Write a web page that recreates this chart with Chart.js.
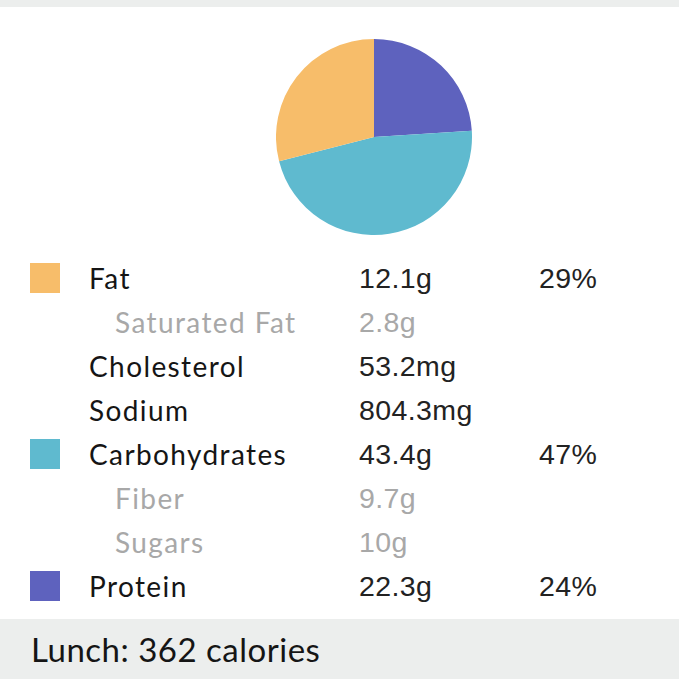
<!DOCTYPE html>
<html lang="en">
<head>
<meta charset="UTF-8">
<title>Lunch - nutrition</title>
<script src="https://cdn.jsdelivr.net/npm/chart.js"></script>
<style>
    html, body{
        margin: 0;
        padding: 0;
        width: 679px;
        height: 679px;
        background: white;
        overflow: hidden;
        position: relative;
    }
    .topo{
        position: absolute;
        left: 0; top: 0;
        width: 679px; height: 7px;
        background: #eceeed;
    }
    .pizza{
        position: absolute;
        left: 276px; top: 39px;
        width: 196px; height: 196px;
    }
    .linha{
        position: absolute;
        left: 0;
        width: 679px;
        height: 44px;
        line-height: 44px;
    }
    .linha div{
        position: absolute;
        top: 0;
        white-space: nowrap;
    }
    .quadrado{
        top: 7px !important;
        left: 30px;
        width: 30px;
        height: 30px;
    }
    .nome{
        left: 89px;
        font-family: Lato, sans-serif;
        font-size: 28px;
        letter-spacing: 1.4px;
        color: #151515;
    }
    .nome.sub{
        left: 115px;
        color: #a8a8a8;
    }
    .valor{
        left: 359px;
        font-family: "Liberation Sans", Arial, sans-serif;
        font-size: 28.5px;
        letter-spacing: 0.4px;
        color: #222;
    }
    .valor.sub{
        color: #a8a8a8;
    }
    .pct{
        left: 539px;
        font-family: "Liberation Sans", Arial, sans-serif;
        font-size: 28.5px;
        letter-spacing: 0.4px;
        color: #222;
    }
    .rodape{
        position: absolute;
        left: 0; top: 619px;
        width: 679px; height: 60px;
        background: #eceeed;
        font-family: Lato, sans-serif;
        font-size: 33px;
        letter-spacing: 0.5px;
        line-height: 60px;
        color: #151515;
        padding-left: 31px;
        box-sizing: border-box;
    }
</style>
</head>
<body>
    <div class="topo"></div>
    <div class="pizza"><canvas id="grafico" width="196" height="196"></canvas></div>
    <div id="tabela"></div>
    <div class="rodape" id="rodape"></div>

<script>
    // fatias do grafico (sentido horario a partir do topo)
    const macros = ['Protein', 'Carbohydrates', 'Fat'];
    const macroPercent = [24, 47, 29];
    const macroCores = ['#5e62be', '#5fbacf', '#f7bd6a'];

    // linhas da tabela
    const nomes = ['Fat', 'Saturated Fat', 'Cholesterol', 'Sodium', 'Carbohydrates', 'Fiber', 'Sugars', 'Protein'];
    const quantidades = ['12.1g', '2.8g', '53.2mg', '804.3mg', '43.4g', '9.7g', '10g', '22.3g'];
    const subitem = [false, true, false, false, false, true, true, false];

    const refeicao = 'Lunch';
    const calorias = 362;

    function montarTabela(){
        var tabela = document.getElementById('tabela');
        for(var i = 0; i < nomes.length; i++){
            var linha = document.createElement('div');
            linha.className = 'linha';
            linha.style.top = (256 + i * 44) + 'px';
            var idx = macros.indexOf(nomes[i]);
            var html = '';
            if(idx >= 0){
                html += `<div class="quadrado" style="background:${macroCores[idx]}"></div>`;
            }
            html += `<div class="nome${subitem[i] ? ' sub' : ''}">${nomes[i]}</div>`;
            html += `<div class="valor${subitem[i] ? ' sub' : ''}">${quantidades[i]}</div>`;
            if(idx >= 0){
                html += `<div class="pct">${macroPercent[idx]}%</div>`;
            }
            linha.innerHTML = html;
            tabela.appendChild(linha);
        }
        document.getElementById('rodape').textContent = `${refeicao}: ${calorias} calories`;
    }

    function carregarGrafico(){
        new Chart(document.getElementById('grafico'), {
            type: 'pie',
            data: {
                labels: macros,
                datasets: [{
                    data: macroPercent,
                    backgroundColor: macroCores,
                    borderWidth: 0
                }]
            },
            options: {
                responsive: false,
                animation: false,
                layout: { padding: 0 },
                plugins: {
                    legend: { display: false },
                    tooltip: { enabled: false }
                }
            }
        });
    }

    montarTabela();
    carregarGrafico();
</script>
</body>
</html>
